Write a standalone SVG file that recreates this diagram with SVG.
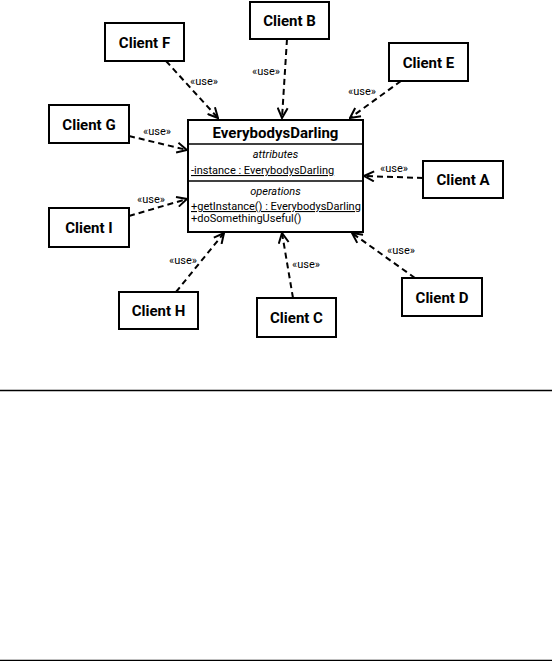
<svg xmlns="http://www.w3.org/2000/svg" width="552" height="661" viewBox="0 0 552 661">
<style>
.box{fill:#fff;stroke:#000;stroke-width:2}
.cl{font-family:Roboto,"Liberation Sans",sans-serif;font-weight:bold;font-size:15px;text-anchor:middle;fill:#000}
.m{font-family:Roboto,"Liberation Sans",sans-serif;font-size:11px;fill:#000}
.it{font-style:italic;text-anchor:middle}
.u{text-decoration:underline}
.use{font-family:Roboto,"Liberation Sans",sans-serif;font-size:11px;fill:#000;text-anchor:middle}
.dep{fill:none;stroke:#000;stroke-width:2;stroke-dasharray:6,4;marker-end:url(#arr)}
.sep{stroke:#000;stroke-width:1.3}
</style>
<defs>
<marker id="arr" viewBox="0 0 12 12" refX="11" refY="6" markerWidth="12" markerHeight="12" markerUnits="userSpaceOnUse" orient="auto">
<path d="M1,1 L11,6 L1,11" fill="none" stroke="#000" stroke-width="2"/>
</marker>
</defs>
<g id="connectors">
<path class="dep" d="M166,61 L218,118"/>
<text class="use" x="204" y="85">«use»</text>
<path class="dep" d="M287,39 L282,118"/>
<text class="use" x="266" y="75">«use»</text>
<path class="dep" d="M401,81 L350,118"/>
<text class="use" x="362" y="95">«use»</text>
<path class="dep" d="M129,136 L187,150"/>
<text class="use" x="157" y="135">«use»</text>
<path class="dep" d="M129,216 L187,199"/>
<text class="use" x="151" y="203">«use»</text>
<path class="dep" d="M423,178 L364,176"/>
<text class="use" x="394" y="172">«use»</text>
<path class="dep" d="M176,292 L224,233"/>
<text class="use" x="183" y="264">«use»</text>
<path class="dep" d="M293,298 L282,233"/>
<text class="use" x="306" y="268">«use»</text>
<path class="dep" d="M415,278 L352,233"/>
<text class="use" x="401" y="254">«use»</text>
</g>
<g id="EverybodysDarling">
<rect class="box" x="188" y="120" width="175" height="112"/>
<line class="sep" x1="188" y1="144" x2="363" y2="144"/>
<line class="sep" x1="188" y1="181" x2="363" y2="181"/>
<text class="cl" x="275.5" y="138">EverybodysDarling</text>
<text class="m it" x="275.5" y="158">attributes</text>
<text class="m u" x="191" y="174">-instance : EverybodysDarling</text>
<text class="m it" x="275.5" y="195">operations</text>
<text class="m u" x="191" y="210">+getInstance() : EverybodysDarling</text>
<text class="m" x="191" y="222">+doSomethingUseful()</text>
</g>
<g id="ClientF"><rect class="box" x="105" y="23" width="79" height="38"/><text class="cl" x="144.5" y="47.5">Client F</text></g>
<g id="ClientB"><rect class="box" x="250" y="2" width="79" height="37"/><text class="cl" x="289.5" y="26">Client B</text></g>
<g id="ClientE"><rect class="box" x="389" y="43" width="79" height="38"/><text class="cl" x="428.5" y="67.5">Client E</text></g>
<g id="ClientG"><rect class="box" x="49" y="105" width="80" height="38"/><text class="cl" x="89" y="129.5">Client G</text></g>
<g id="ClientI"><rect class="box" x="49" y="208" width="80" height="39"/><text class="cl" x="89" y="233">Client I</text></g>
<g id="ClientA"><rect class="box" x="423" y="161" width="80" height="37"/><text class="cl" x="463" y="185">Client A</text></g>
<g id="ClientH"><rect class="box" x="119" y="292" width="79" height="37"/><text class="cl" x="158.5" y="316">Client H</text></g>
<g id="ClientC"><rect class="box" x="257" y="298" width="79" height="39"/><text class="cl" x="296.5" y="323">Client C</text></g>
<g id="ClientD"><rect class="box" x="402" y="278" width="80" height="38"/><text class="cl" x="442" y="302.5">Client D</text></g>
<line x1="0" y1="390.5" x2="552" y2="390.5" stroke="#000" stroke-width="1.3"/>
<line x1="0" y1="660.3" x2="552" y2="660.3" stroke="#000" stroke-width="1.3"/>
</svg>
